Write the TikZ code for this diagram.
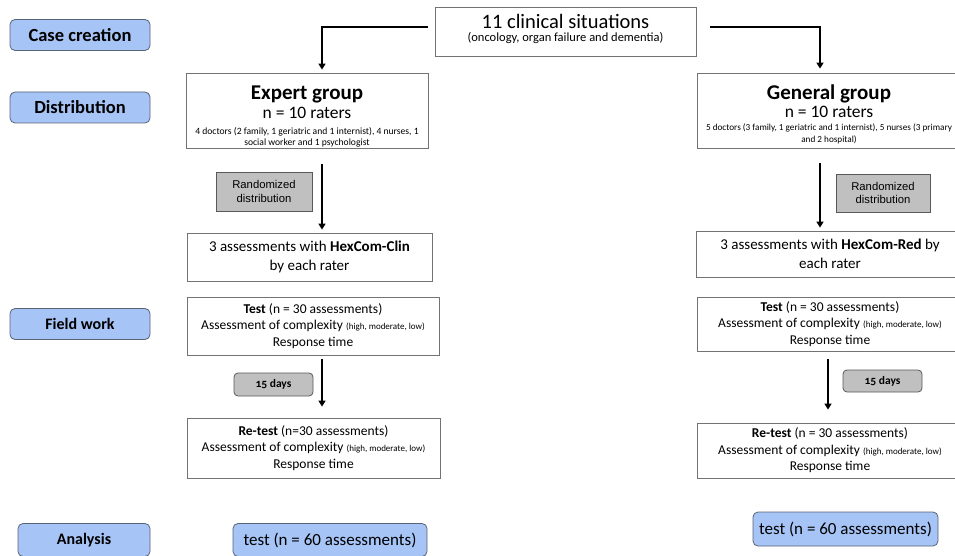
\documentclass[tikz,border=0pt]{standalone}
\usepackage{fontspec}
\setmainfont{Carlito}
\newfontfamily\arialfont{Liberation Sans}
\newfontfamily\oldnumfont[Numbers=OldStyle]{Carlito}
\usetikzlibrary{arrows.meta}

\definecolor{stageblue}{RGB}{166,196,245}
\definecolor{stageline}{RGB}{90,100,120}
\definecolor{notegray}{RGB}{192,192,192}

\newcommand{\tinytext}{\fontsize{9.6}{11}\selectfont}
\newcommand{\widetinytext}{\fontsize{9.2}{11}\selectfont}
\newcommand{\scaletext}{\fontsize{9}{10}\selectfont}

\begin{document}
\begin{tikzpicture}[x=1pt,y=-1pt,
    stage/.style={draw=stageline, fill=stageblue, rounded corners=5pt, line width=0.8pt,
        font=\fontsize{16}{19}\selectfont\bfseries, minimum height=31pt},
    box/.style={draw=black!55, fill=white, line width=0.8pt, align=center, inner sep=1pt},
    note/.style={draw=black!65, fill=notegray, line width=0.8pt, align=center, inner sep=1pt},
    flow/.style={line width=1.8pt, -{Triangle[width=7pt,length=6pt]}}]

    \clip (0,0) rectangle (955,556);

    % these are the stages on the left
    \node[stage, minimum width=140pt, font=\fontsize{18.5}{21}\selectfont\bfseries]
        (case) at (80,35) {Case creation};
    \node[stage, minimum width=140pt, font=\fontsize{18.5}{21}\selectfont\bfseries]
        (dist) at (80,107.5) {Distribution};
    \node[stage, minimum width=140pt] (field) at (80,324) {Field work};
    \node[stage, minimum width=132pt, minimum height=33pt] (analysis) at (84,540) {Analysis};

    % the cases
    \node[box, minimum width=261pt, minimum height=49pt] (cases) at (565.5,31.5) {};
    \node[align=center, inner sep=0pt] (casesText) at ([yshift=3pt]cases.center)
        {{\fontsize{20.5}{22}\selectfont 11 clinical situations}\\[1pt]
         {\fontsize{12.5}{13}\selectfont (oncology, organ failure and dementia)}};

    % the two groups
    \node[box, minimum width=242pt, minimum height=75pt] (expert) at (307,110.5) {};
    \node[align=center, inner sep=0pt] (expertText) at ([yshift=-6pt]expert.center)
        {{\fontsize{21}{23}\selectfont\bfseries Expert group}\\[3pt]
         {\fontsize{17.5}{19}\selectfont n = 10 raters}\\[4pt]
         {\tinytext 4 doctors (2 family, 1 geriatric and 1 internist), 4 nurses, 1}\\[-1pt]
         {\tinytext social worker and 1 psychologist}};
    \node[box, minimum width=270pt, minimum height=75pt] (general) at (832,110.5) {};
    \node[align=center, inner sep=0pt] (generalText) at ([xshift=-3pt, yshift=-4pt]general.center)
        {{\fontsize{21}{23}\selectfont\bfseries General group}\\[2pt]
         {\fontsize{17.5}{19}\selectfont n = 10 raters}\\[1pt]
         {\widetinytext 5 doctors (3 family, 1 geriatric and 1 internist), 5 nurses (3 primary}\\
         {\widetinytext and 2 hospital)}};

    % randomized distribution
    \node[note, minimum width=96pt, minimum height=39pt, font=\arialfont\fontsize{11.3}{13.5}\selectfont]
        (randA) at (264,191.5) {Randomized\\distribution};
    \node[note, minimum width=94pt, minimum height=38pt, font=\arialfont\fontsize{11.3}{13.5}\selectfont]
        (randB) at (883,193) {Randomized\\distribution};

    \node[box, minimum width=245pt, minimum height=48pt, font=\fontsize{15}{19}\selectfont]
        (assessA) at (309.5,257) {3 assessments with \textbf{HexCom-Clin}\\by each rater};
    \node[box, minimum width=268pt, minimum height=46pt, font=\fontsize{15}{19}\selectfont]
        (assessB) at (830,254) {3 assessments with \textbf{HexCom-Red} by\\each rater};

    % test and re-test
    \node[box, minimum width=252pt, minimum height=58pt, font=\fontsize{13.5}{16.5}\selectfont]
        (testA) at (313,326) {\textbf{Test} (n = 30 assessments)\\
        Assessment of complexity {\scaletext (high, moderate, low)}\\Response time};
    \node[box, minimum width=266pt, minimum height=54pt, font=\fontsize{13.5}{16.5}\selectfont]
        (testB) at (830,324) {\textbf{Test} (n = 30 assessments)\\
        Assessment of complexity {\scaletext (high, moderate, low)}\\Response time};

    \node[note, rounded corners=4pt, minimum width=79pt, minimum height=23pt,
        font=\oldnumfont\bfseries\fontsize{11.5}{13}\selectfont] (daysA) at (273.5,384.5) {15 days};
    \node[note, rounded corners=4pt, minimum width=79pt, minimum height=22pt,
        font=\oldnumfont\bfseries\fontsize{11.5}{13}\selectfont] (daysB) at (882.5,381) {15 days};

    \node[box, minimum width=253pt, minimum height=60pt, font=\fontsize{13.5}{16.5}\selectfont]
        (retestA) at (313.5,448) {\textbf{Re-test} (n=30 assessments)\\
        Assessment of complexity {\scaletext (high, moderate, low)}\\Response time};
    \node[box, minimum width=266pt, minimum height=55pt, font=\fontsize{13.5}{16.5}\selectfont]
        (retestB) at (830,450.5) {\textbf{Re-test} (n = 30 assessments)\\
        Assessment of complexity {\scaletext (high, moderate, low)}\\Response time};

    % analysis
    \node[stage, font=\fontsize{17}{20}\selectfont, minimum width=194pt, minimum height=33pt]
        (sumA) at (330,540) {test (n = 60 assessments)};
    \node[stage, font=\fontsize{17}{20}\selectfont, minimum width=185pt, minimum height=34pt]
        (sumB) at (845.5,529) {test (n = 60 assessments)};

    % the arrows
    \coordinate (colA) at (322,0);
    \coordinate (colB) at (820,0);
    \coordinate (colC) at (828,0);

    \draw[flow, shorten <=7pt, shorten >=3pt] ([yshift=4.5]cases.west) -| (expert.north -| colA);
    \draw[flow, shorten <=14pt, shorten >=4pt] ([yshift=4.5]cases.east) -| (general.north -| colB);
    \draw[flow, shorten <=16pt, shorten >=3pt] (expert.south -| colA) -- (assessA.north -| colA);
    \draw[flow, shorten <=15pt, shorten >=3pt] (general.south -| colB) -- (assessB.north -| colB);
    \draw[flow, shorten <=4pt, shorten >=11pt] (testA.south -| colA) -- (retestA.north -| colA);
    \draw[flow, shorten <=8pt, shorten >=13pt] (testB.south -| colC) -- (retestB.north -| colC);

\end{tikzpicture}
\end{document}
